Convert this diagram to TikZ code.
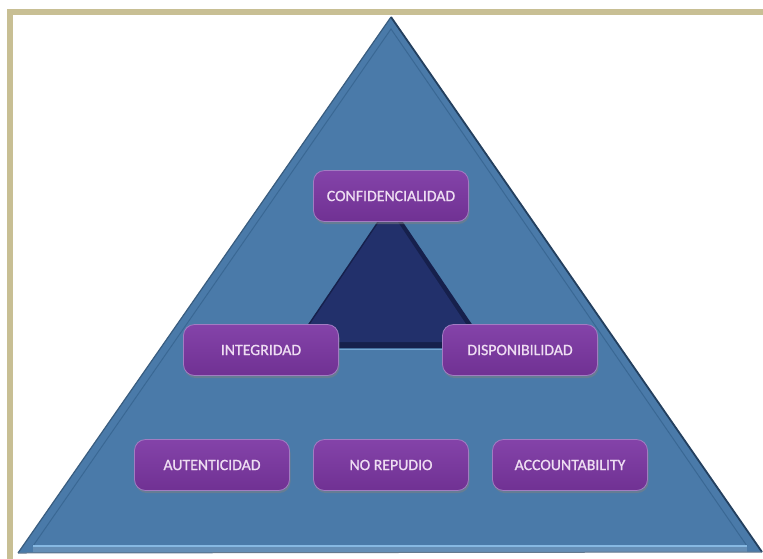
\documentclass[tikz,border=0pt]{standalone}
\usepackage{fontspec}
\setmainfont{Carlito}
\newfontfamily\pillfont[FakeBold=0.9]{Carlito}
\usetikzlibrary{shadows}
\definecolor{frametan}{HTML}{C8BF94}
\definecolor{pyrblue}{HTML}{4A7AA9}
\definecolor{pyredge}{HTML}{233F5E}
\definecolor{bevel}{HTML}{3A6894}
\definecolor{baselight}{HTML}{86B8E2}
\definecolor{coredark}{HTML}{16204C}
\definecolor{core}{HTML}{22306B}
\definecolor{pilltop}{HTML}{8443A9}
\definecolor{pillbot}{HTML}{703193}
\definecolor{pilledge}{HTML}{A27CC2}
\definecolor{pilltext}{HTML}{EEDDF2}
\tikzset{
  pill/.style={rounded corners=11pt, minimum width=155pt, minimum height=51pt,
    top color=pilltop, bottom color=pillbot, draw=pilledge, line width=0.8pt,
    text=pilltext, font=\pillfont\fontsize{15.8}{18}\selectfont, inner sep=0pt,
    drop shadow={opacity=0.5, shadow xshift=1pt, shadow yshift=-2.5pt}},
  framestyle/.style={draw=frametan, line width=6pt}
}
\begin{document}
\begin{tikzpicture}[x=1pt,y=-1pt]
\useasboundingbox (0,0) rectangle (763,558);
\fill[white] (0,0) rectangle (763,558);
% outer frame, open towards the right and the bottom
\begin{scope}
  \clip (0,0) rectangle (763,558);
  \draw[framestyle] (10,580) -- (10,12) -- (790,12);
\end{scope}
% large pyramid with a bevelled rim: lit on the left, shaded on the right
\coordinate (apex) at (391,17);
\coordinate (bl) at (18,553);
\coordinate (br) at (762,552);
\fill[pyrblue] (apex) -- (br) -- (bl) -- cycle;
\draw[pyrblue!75!black, line width=1.2pt] (bl) -- (apex);
\draw[pyredge, line width=1.8pt] (apex) -- (br);
\draw[bevel, line width=1pt] (33,546) -- (391,29) -- (747,546);
\fill[pyrblue!85!white] (33,546) rectangle (747,552);
\draw[baselight, line width=1.5pt] (33,546) -- (747,546);
\draw[pyredge!70, line width=1pt] (bl) -- (br);
% dark core triangle with inner shadow on the right and bottom
\coordinate (ca) at (390,203);
\coordinate (cl) at (292,348);
\coordinate (cr) at (488,348);
\fill[coredark] (ca) -- (cr) -- (cl) -- cycle;
\fill[core] (388.5,208) -- (478,342) -- (298,342) -- cycle;
\draw[baselight!70!pyrblue, line width=1.2pt] (292,349.5) -- (488,349.5);
% property boxes
\node[pill] (conf) at (391,196) {CONFIDENCIALIDAD};
\node[pill] (integ) at (261,350) {INTEGRIDAD};
\node[pill] (disp) at (520,350) {DISPONIBILIDAD};
\node[pill] (aut) at (212,465) {AUTENTICIDAD};
\node[pill] (norep) at (391,465) {NO REPUDIO};
\node[pill] (acc) at (570,465) {ACCOUNTABILITY};
\end{tikzpicture}
\end{document}
